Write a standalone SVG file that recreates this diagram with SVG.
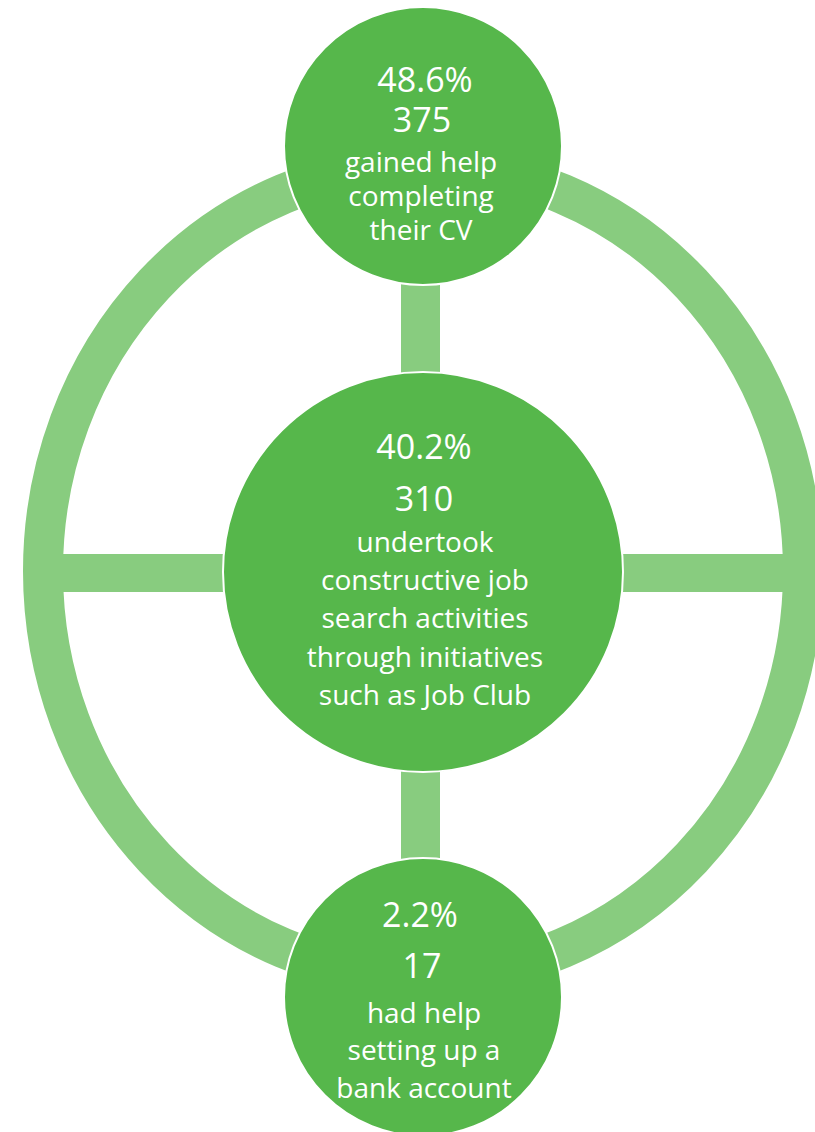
<svg xmlns="http://www.w3.org/2000/svg" width="815" height="1132" viewBox="0 0 815 1132">
  <style>
    .ring { fill: none; stroke: #88CC7F; stroke-width: 40; }
    .bar { fill: #88CC7F; }
    .node { fill: #56B74B; stroke: #FFFFFF; stroke-width: 2; }
    text { font-family: "Open Sans", "Liberation Sans", sans-serif; fill: #FFFFFF; text-anchor: middle; }
    .num { font-size: 34px; }
    .body { font-size: 28px; }
  </style>
  <rect x="0" y="0" width="815" height="1132" fill="#FFFFFF"/>
  <g id="connectors">
    <ellipse class="ring" cx="423" cy="571" rx="380" ry="405.5"/>
    <rect class="bar" x="401" y="270" width="39" height="120"/>
    <rect class="bar" x="401" y="760" width="39" height="110"/>
    <rect class="bar" x="50" y="554" width="190" height="38"/>
    <rect class="bar" x="606" y="554" width="190" height="38"/>
  </g>
  <g id="node-top">
    <circle class="node" cx="423" cy="146" r="139"/>
    <text class="num" x="425" y="92">48.6%</text>
    <text class="num" x="422" y="132">375</text>
    <text class="body" x="421" y="172">gained help</text>
    <text class="body" x="421" y="206">completing</text>
    <text class="body" x="421" y="240">their CV</text>
  </g>
  <g id="node-center">
    <circle class="node" cx="423" cy="572" r="200"/>
    <text class="num" x="424" y="459">40.2%</text>
    <text class="num" x="424" y="511">310</text>
    <text class="body" x="425" y="552">undertook</text>
    <text class="body" x="425" y="590">constructive job</text>
    <text class="body" x="425" y="628">search activities</text>
    <text class="body" x="425" y="667">through initiatives</text>
    <text class="body" x="425" y="705">such as Job Club</text>
  </g>
  <g id="node-bottom">
    <circle class="node" cx="423" cy="997" r="139"/>
    <text class="num" x="420" y="927">2.2%</text>
    <text class="num" x="422" y="978">17</text>
    <text class="body" x="424" y="1023">had help</text>
    <text class="body" x="424" y="1060">setting up a</text>
    <text class="body" x="424" y="1098">bank account</text>
  </g>
</svg>
